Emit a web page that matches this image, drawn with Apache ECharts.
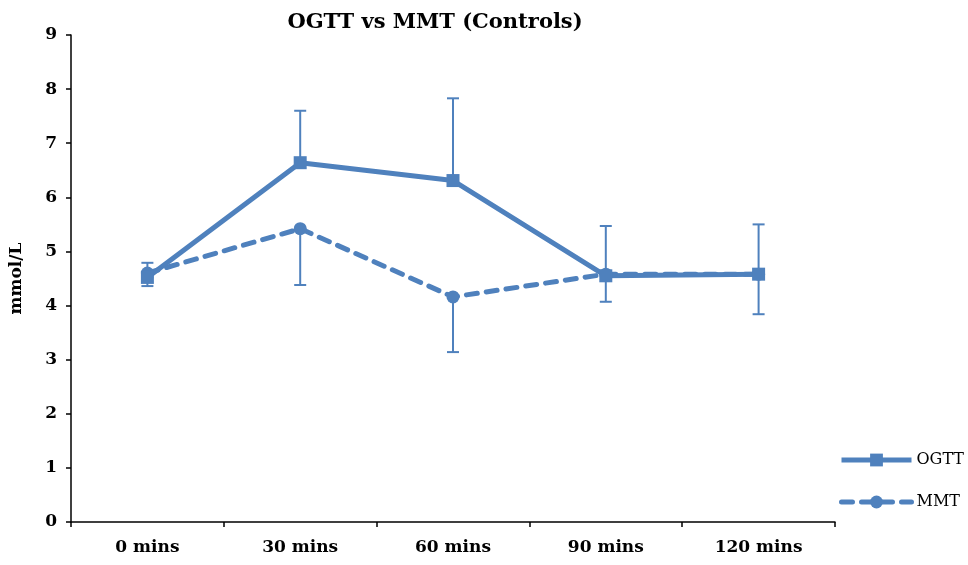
<!DOCTYPE html>
<html><head><meta charset="utf-8">
<script src="https://cdn.jsdelivr.net/npm/echarts@6/dist/echarts.min.js"></script>
<style>html,body{margin:0;padding:0;background:#fff}#c{width:968px;height:565px}</style>
</head><body><div id="c"></div>
<script>
const categories = ['0 mins', '30 mins', '60 mins', '90 mins', '120 mins'];
const ogtt = [4.52, 6.64, 6.31, 4.55, 4.58];
const mmt = [4.60, 5.42, 4.16, 4.58, 4.58];
const ogttUpper = [4.79, 7.60, 7.83, 5.47, 5.50];
const mmtLower = [4.36, 4.38, 3.14, 4.07, 3.84];
const yTicks = [0,1,2,3,4,5,6,7,8,9];

const color = '#4F81BD';
const font = "'DejaVu Serif', serif";

const errData = [];
categories.forEach((c, i) => {
  errData.push([i, ogtt[i], ogttUpper[i]]);
  errData.push([i, mmtLower[i], mmt[i]]);
});

function renderErr(params, api) {
  const x = api.value(0);
  const lo = api.coord([x, api.value(1)]);
  const hi = api.coord([x, api.value(2)]);
  const half = 6;
  const style = { stroke: color, lineWidth: 2 };
  return {
    type: 'group',
    children: [
      { type: 'line', shape: { x1: lo[0], y1: lo[1], x2: hi[0], y2: hi[1] }, style },
      { type: 'line', shape: { x1: lo[0]-half, y1: lo[1], x2: lo[0]+half, y2: lo[1] }, style },
      { type: 'line', shape: { x1: hi[0]-half, y1: hi[1], x2: hi[0]+half, y2: hi[1] }, style }
    ]
  };
}

const chart = echarts.init(document.getElementById('c'));
chart.setOption({
  animation: false,
  title: {
    text: 'OGTT vs MMT (Controls)', left: 430, top: 7, textAlign: 'center',
    textStyle: { fontFamily: font, fontWeight: 'bold', fontSize: 21, color: '#000' }
  },
  legend: {
    orient: 'vertical', left: 834, top: 447, itemGap: 26, itemWidth: 70, itemHeight: 16,
    data: [
      { name: 'OGTT', lineStyle: { width: 5 } },
      { name: 'MMT', lineStyle: { width: 5 } }
    ],
    textStyle: { fontFamily: font, fontSize: 16, color: '#000' }
  },
  grid: { left: 69, right: 133, top: 35, bottom: 43 },
  xAxis: {
    type: 'category', data: categories, boundaryGap: true,
    axisLine: { lineStyle: { color: '#000', width: 1.5 } },
    axisTick: { show: true, length: 5, lineStyle: { color: '#000', width: 1.5 } },
    axisLabel: { fontFamily: font, fontWeight: 'bold', fontSize: 17, color: '#000', margin: 17 }
  },
  yAxis: {
    type: 'value', min: 0, max: 9, interval: 1,
    name: 'mmol/L', nameLocation: 'middle', nameGap: 46, nameRotate: 90,
    nameTextStyle: { fontFamily: font, fontWeight: 'bold', fontSize: 17, color: '#000' },
    splitLine: { show: false },
    axisLine: { show: true, lineStyle: { color: '#000', width: 1.5 } },
    axisTick: { show: true, length: 5, lineStyle: { color: '#000', width: 1.5 } },
    axisLabel: { fontFamily: font, fontWeight: 'bold', fontSize: 17, color: '#000', margin: 14,
      formatter: v => yTicks.includes(v) ? String(v) : '' }
  },
  series: [
    { name: 'errors', type: 'custom', renderItem: renderErr, data: errData, z: 1,
      encode: { x: 0, y: [1, 2] } },
    { name: 'OGTT', type: 'line', data: ogtt, symbol: 'rect', symbolSize: 13, z: 3,
      itemStyle: { color: color },
      lineStyle: { color: color, width: 5 } },
    { name: 'MMT', type: 'line', data: mmt, symbol: 'circle', symbolSize: 13, z: 2,
      itemStyle: { color: color },
      lineStyle: { color: color, width: 5, type: [11, 9], cap: 'round' } }
  ]
});
</script></body></html>
